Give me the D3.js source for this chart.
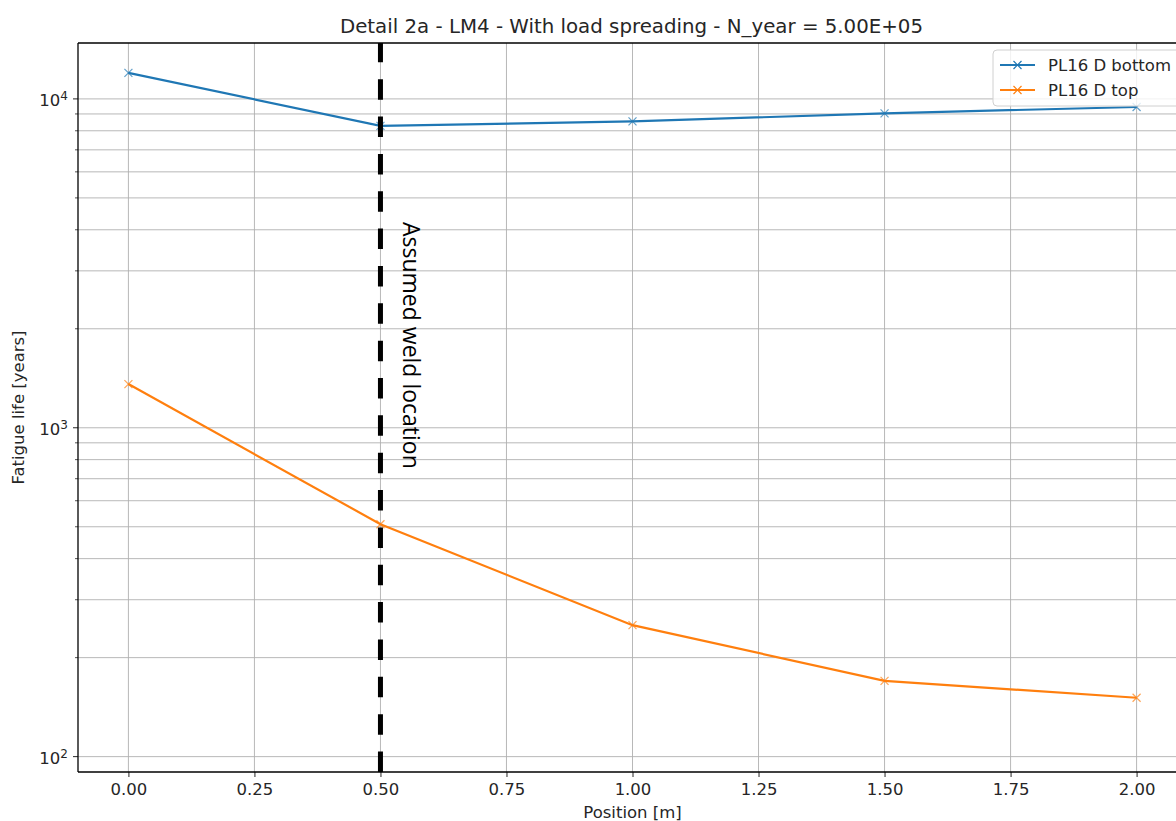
<!DOCTYPE html>
<html>
<head>
<meta charset="utf-8">
<script src="https://cdn.jsdelivr.net/npm/d3@7"></script>
<style>
  body { margin: 0; background: #fff; }
  text { font-family: "DejaVu Sans", sans-serif; fill: #262626; }
</style>
</head>
<body>
<div id="chart"></div>
<script>
// chart data
var positions = [0.0, 0.5, 1.0, 1.5, 2.0];
var bottomLife = [12000, 8280, 8540, 9040, 9450];
var topLife = [1358, 509, 251, 170, 151];
var seriesNames = ["PL16 D bottom", "PL16 D top"];
var xTicks = [0, 0.25, 0.5, 0.75, 1.0, 1.25, 1.5, 1.75, 2.0];
var yDecades = [100, 1000, 10000];
var weldPos = 0.5;

var w = 1176, h = 821
    , marginTop = 43, marginLeft = 78, plotRight = 1187, plotBottom = 772;

var colors = ["#1f77b4", "#ff7f0e"];
var fs = "16.5px";

var svg = d3.select("#chart").append("svg")
    .attr("width", w).attr("height", h);

var xScale = d3.scaleLinear().domain([-0.1, 2.1]).range([marginLeft, plotRight]);
var yScale = d3.scaleLog().domain([89.8, 14790]).range([plotBottom, marginTop]);

// minor log ticks
var minorTicks = [];
yDecades.forEach(function(d) {
  for (var k = 2; k <= 9; k++) {
    var v = d * k;
    if (v < 14790) minorTicks.push(v);
  }
});

svg.append("clipPath").attr("id", "plotclip")
  .append("rect")
  .attr("x", marginLeft).attr("y", marginTop)
  .attr("width", plotRight - marginLeft).attr("height", plotBottom - marginTop);

var grid = svg.append("g").attr("class", "grid");
grid.selectAll("line.gx").data(xTicks).enter().append("line")
    .attr("x1", function(d) { return xScale(d); })
    .attr("x2", function(d) { return xScale(d); })
    .attr("y1", marginTop).attr("y2", plotBottom)
    .attr("stroke", "#b0b0b0").attr("stroke-width", 0.9);
grid.selectAll("line.gy").data(yDecades.concat(minorTicks)).enter().append("line")
    .attr("x1", marginLeft).attr("x2", plotRight)
    .attr("y1", function(d) { return yScale(d); })
    .attr("y2", function(d) { return yScale(d); })
    .attr("stroke", "#b0b0b0").attr("stroke-width", 0.9);

// series
var series = [bottomLife, topLife];
var line = d3.line()
    .x(function(d, i) { return xScale(positions[i]); })
    .y(function(d) { return yScale(d); });

var plotG = svg.append("g").attr("clip-path", "url(#plotclip)");

series.forEach(function(s, si) {
  plotG.append("path")
      .datum(s)
      .attr("d", line)
      .attr("fill", "none")
      .attr("stroke", colors[si])
      .attr("stroke-width", 2.2);
  plotG.selectAll("path.m" + si).data(s).enter().append("path")
      .attr("d", "M-4,-4L4,4M-4,4L4,-4")
      .attr("transform", function(d, i) {
        return "translate(" + xScale(positions[i]) + "," + yScale(d) + ")";
      })
      .attr("stroke", colors[si])
      .attr("stroke-opacity", 0.7)
      .attr("stroke-width", 1.2)
      .attr("fill", "none");
});

// weld line
plotG.append("line")
    .attr("x1", xScale(weldPos)).attr("x2", xScale(weldPos))
    .attr("y1", plotBottom).attr("y2", marginTop)
    .attr("stroke", "#000").attr("stroke-width", 5)
    .attr("stroke-dasharray", "20.5,16.85");

svg.append("text")
    .attr("transform", "translate(" + (xScale(weldPos) + 31) + ",222) rotate(90)")
    .attr("dy", "0.35em")
    .style("font-family", "'Open Sans', 'Noto Sans', sans-serif")
    .style("font-size", "23px")
    .style("fill", "#000")
    .text("Assumed weld location");

// axes
var xAxis = d3.axisBottom(xScale).tickValues(xTicks)
    .tickFormat(d3.format(".2f")).tickSize(5).tickPadding(6);
svg.append("g")
    .attr("transform", "translate(0," + plotBottom + ")")
    .call(xAxis)
    .call(function(g) {
      g.select(".domain").remove();
      g.selectAll("text").style("font-size", fs).style("font-family", "'DejaVu Sans'").attr("fill", "#262626");
      g.selectAll("line").attr("stroke", "#262626");
    });

var yAxisG = svg.append("g").attr("transform", "translate(" + marginLeft + ",0)");
yAxisG.selectAll("line.minor").data(minorTicks).enter().append("line")
    .attr("x1", -3).attr("x2", 0)
    .attr("y1", function(d) { return yScale(d); })
    .attr("y2", function(d) { return yScale(d); })
    .attr("stroke", "#262626").attr("stroke-width", 0.8);
yAxisG.selectAll("line.major").data(yDecades).enter().append("line")
    .attr("x1", -5).attr("x2", 0)
    .attr("y1", function(d) { return yScale(d); })
    .attr("y2", function(d) { return yScale(d); })
    .attr("stroke", "#262626").attr("stroke-width", 1);
var yLabels = yAxisG.selectAll("text.ylab").data(yDecades).enter().append("text")
    .attr("x", -10)
    .attr("y", function(d) { return yScale(d); })
    .attr("dy", "0.45em")
    .attr("text-anchor", "end")
    .style("font-size", fs);
yLabels.append("tspan").text("10");
yLabels.append("tspan")
    .attr("dy", "-0.5em")
    .style("font-size", "12px")
    .text(function(d) { return Math.round(Math.log10(d)); });

// spines
svg.append("line").attr("x1", marginLeft).attr("x2", marginLeft)
    .attr("y1", marginTop).attr("y2", plotBottom).attr("stroke", "#000").attr("stroke-width", 1.3);
svg.append("line").attr("x1", marginLeft).attr("x2", plotRight)
    .attr("y1", plotBottom).attr("y2", plotBottom).attr("stroke", "#000").attr("stroke-width", 1.3);
svg.append("line").attr("x1", marginLeft).attr("x2", plotRight)
    .attr("y1", marginTop).attr("y2", marginTop).attr("stroke", "#000").attr("stroke-width", 1.3);

// labels
svg.append("text")
    .attr("x", (marginLeft + plotRight) / 2 - 1).attr("y", 33)
    .attr("text-anchor", "middle")
    .style("font-size", "19.8px")
    .text("Detail 2a - LM4 - With load spreading - N_year = 5.00E+05");
svg.append("text")
    .attr("x", xScale(1.0)).attr("y", 818)
    .attr("text-anchor", "middle")
    .style("font-size", fs)
    .text("Position [m]");
svg.append("text")
    .attr("transform", "translate(24," + ((marginTop + plotBottom) / 2) + ") rotate(-90)")
    .attr("text-anchor", "middle")
    .style("font-size", fs)
    .text("Fatigue life [years]");

// legend
var legend = svg.append("g");
legend.append("rect")
    .attr("x", 993).attr("y", 50).attr("width", 190).attr("height", 56)
    .attr("rx", 4)
    .attr("fill", "#fff").attr("fill-opacity", 0.8)
    .attr("stroke", "#d0d0d0");
seriesNames.forEach(function(name, i) {
  var y = 65 + i * 25;
  legend.append("line")
      .attr("x1", 1000).attr("x2", 1035).attr("y1", y).attr("y2", y)
      .attr("stroke", colors[i]).attr("stroke-width", 2.2);
  legend.append("path")
      .attr("d", "M-4,-4L4,4M-4,4L4,-4")
      .attr("transform", "translate(1017.5," + y + ")")
      .attr("stroke", colors[i]).attr("stroke-width", 1.2);
  legend.append("text")
      .attr("x", 1048).attr("y", y).attr("dy", "0.35em")
      .style("font-size", fs)
      .text(name);
});
</script>
</body>
</html>
